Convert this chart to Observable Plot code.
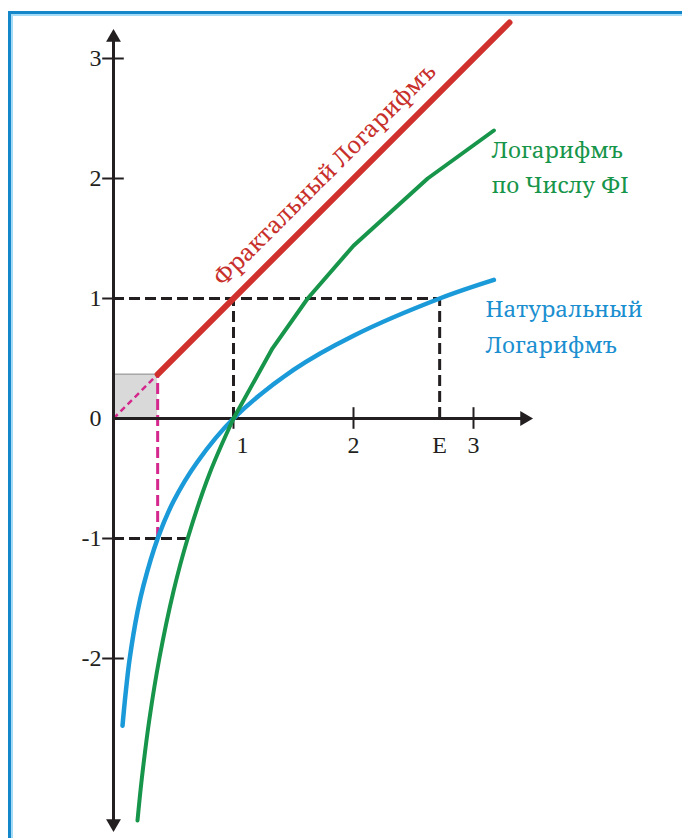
<!DOCTYPE html>
<html>
<head>
<meta charset="utf-8">
<script src="https://cdn.jsdelivr.net/npm/d3@7"></script>
<script src="https://cdn.jsdelivr.net/npm/@observablehq/plot@0.6"></script>
<style>
  html, body { margin: 0; padding: 0; background: #fff; overflow: hidden; }
  #wrap { position: relative; width: 682px; height: 838px; overflow: hidden; }
  #wrap svg { position: absolute; left: 0; top: 0; }
  #frame { position: absolute; left: 8px; top: 11px; width: 800px; height: 900px;
    border-left: 3px solid #1487cb; border-top: 3px solid #1487cb;
    box-shadow: inset 2px 2px 0 #a6dbf5; pointer-events: none; }
</style>
</head>
<body>
<div id="wrap"></div>
<script>
// Natural logarithm curve
const lnX = [0.075, 0.1, 0.135, 0.2, 0.25, 0.368, 0.5, 0.7, 1, 1.5, 2, 2.718, 3.17];
const lnY = [-2.56, -2.3, -2.0, -1.61, -1.39, -1.0, -0.69, -0.36, 0, 0.405, 0.69, 1.0, 1.155];
// Logarithm to base Phi: smooth lower branch, polyline upper branch
const phiLowX = [0.2, 0.236, 0.3, 0.382, 0.5, 0.618, 0.8, 1];
const phiLowY = [-3.35, -3.0, -2.5, -2.0, -1.44, -1.0, -0.46, 0];
const phiHighX = [1, 1.325, 1.618, 2, 2.618, 3.17];
const phiHighY = [0, 0.585, 1.0, 1.44, 2.0, 2.4];
// Fractal logarithm (straight line)
const fracX = [0.368, 3.3];
const fracY = [0.368, 3.3];
// Ticks
const yTickValues = [-2, -1, 0, 1, 2, 3];
const yTickLabels = ["-2", "-1", "0", "1", "2", "3"];
const yTickMarks = [-2, -1, 1, 2, 3];
const xTickMarks = [1, 2, 3];
const xTickValues = [2, 2.718, 3];
const xTickLabels = ["2", "E", "3"];
const E = 2.718, INV_E = 0.368, INV_PHI = 0.618;

const ln = lnX.map((x, i) => ({x, y: lnY[i]}));
const phiLow = phiLowX.map((x, i) => ({x, y: phiLowY[i]}));
const phiHigh = phiHighX.map((x, i) => ({x, y: phiHighY[i]}));
const frac = fracX.map((x, i) => ({x, y: fracY[i]}));
const yLab = yTickValues.map((v, i) => ({v, t: yTickLabels[i]}));
const xLab = xTickValues.map((v, i) => ({v, t: xTickLabels[i]}));

const BLACK = "#231f20", RED = "#d0312d", GREEN = "#17954a", BLUE = "#1b9ad9", MAG = "#d4288c";
const serif = "'Noto Serif', 'Liberation Serif', serif";
const tickFont = "'Liberation Serif', serif";

const chart = Plot.plot({
  width: 682, height: 838,
  margin: 0,
  x: {domain: [0, 1], range: [113, 233], axis: null},
  y: {domain: [0, 1], range: [418, 298], axis: null},
  style: {background: "transparent"},
  marks: [
    // grey square
    Plot.rect([{x1: 0, x2: INV_E, y1: 0, y2: INV_E}], {x1: "x1", x2: "x2", y1: "y1", y2: "y2", fill: "#d9d9d9"}),
    Plot.ruleY([INV_E], {x1: 0, x2: INV_E, stroke: "#a8a8a8", strokeWidth: 1.5}),
    // black dashed guides
    Plot.ruleY([1], {x1: 0, x2: E, stroke: BLACK, strokeWidth: 3, strokeDasharray: "11,5"}),
    Plot.ruleY([-1], {x1: 0, x2: INV_PHI, stroke: BLACK, strokeWidth: 3, strokeDasharray: "11,5"}),
    Plot.ruleX([1, E], {y1: 0, y2: 1, stroke: BLACK, strokeWidth: 3, strokeDasharray: "11,5"}),
    // magenta dashed
    Plot.ruleX([INV_E], {y1: -1, y2: INV_E, stroke: MAG, strokeWidth: 3, strokeDasharray: "11,5"}),
    Plot.link([{x1: 0, y1: 0, x2: INV_E, y2: INV_E}], {x1: "x1", y1: "y1", x2: "x2", y2: "y2", stroke: MAG, strokeWidth: 2.5, strokeDasharray: "6,4"}),
    // axes
    Plot.ruleX([0], {y1: -3.37, y2: 3.17, stroke: BLACK, strokeWidth: 3}),
    Plot.ruleY([0], {x1: 0, x2: 3.42, stroke: BLACK, strokeWidth: 3}),
    Plot.dot([{x: 0, y: 3.175}], {x: "x", y: "y", symbol: "triangle", r: 5.5, fill: BLACK, stroke: null}),
    Plot.dot([{x: 0, y: -3.375}], {x: "x", y: "y", symbol: "triangle", r: 5.5, fill: BLACK, stroke: null, rotate: 180}),
    Plot.dot([{x: 3.425, y: 0}], {x: "x", y: "y", symbol: "triangle", r: 5.5, fill: BLACK, stroke: null, rotate: 90}),
    // tick marks
    Plot.ruleY(yTickMarks, {x1: -0.09, x2: 0.09, stroke: BLACK, strokeWidth: 2}),
    Plot.ruleX(xTickMarks, {y1: -0.09, y2: 0.09, stroke: BLACK, strokeWidth: 2}),
    // tick labels
    Plot.text(yLab, {x: 0, y: "v", text: "t", textAnchor: "end", dx: -12, fontFamily: tickFont, fontSize: 24, fill: BLACK, lineAnchor: "middle"}),
    Plot.text(xLab, {x: "v", y: 0, text: "t", dy: 27, fontFamily: tickFont, fontSize: 24, fill: BLACK, lineAnchor: "middle"}),
    Plot.text(["1"], {x: 1, y: 0, text: d => d, dx: 9, dy: 27, fontFamily: tickFont, fontSize: 24, fill: BLACK, lineAnchor: "middle"}),
    // curves
    Plot.line(ln, {x: "x", y: "y", stroke: BLUE, strokeWidth: 4.5, curve: "catmull-rom"}),
    Plot.line(phiLow, {x: "x", y: "y", stroke: GREEN, strokeWidth: 4, curve: "catmull-rom"}),
    Plot.line(phiHigh, {x: "x", y: "y", stroke: GREEN, strokeWidth: 4, curve: "linear"}),
    Plot.line(frac, {x: "x", y: "y", stroke: RED, strokeWidth: 6}),
    // labels
    Plot.text(["Фрактальный Логарифмъ"], {x: 1.76, y: 2.03, text: d => d, rotate: -45, fontFamily: serif, fontSize: 23, fill: "#c8302c", lineAnchor: "middle"}),
    Plot.text(["Логарифмъ"], {x: 3.15, y: 2.167, text: d => d, textAnchor: "start", lineAnchor: "bottom", fontFamily: serif, fontSize: 22.5, fill: GREEN}),
    Plot.text(["по Числу ФI"], {x: 3.15, y: 1.883, text: d => d, textAnchor: "start", lineAnchor: "bottom", fontFamily: serif, fontSize: 22.5, fill: GREEN}),
    Plot.text(["Натуральный"], {x: 3.1, y: 0.842, text: d => d, textAnchor: "start", lineAnchor: "bottom", fontFamily: serif, fontSize: 22.5, fill: "#1b8fd0"}),
    Plot.text(["Логарифмъ"], {x: 3.1, y: 0.55, text: d => d, textAnchor: "start", lineAnchor: "bottom", fontFamily: serif, fontSize: 22.5, fill: "#1b8fd0"})
  ]
});
const wrap = document.getElementById("wrap");
wrap.appendChild(chart);
const frame = document.createElement("div");
frame.id = "frame";
wrap.appendChild(frame);
</script>
</body>
</html>
